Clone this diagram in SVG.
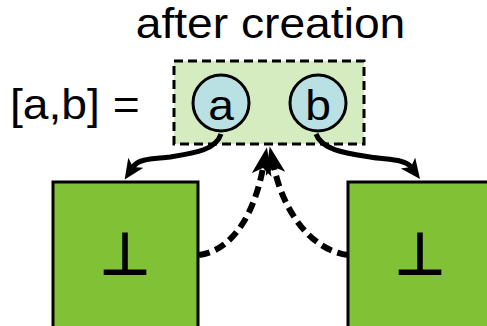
<svg xmlns="http://www.w3.org/2000/svg" width="487" height="326" viewBox="0 0 487 326">
  <style>
    .lbl { font-family: "Liberation Sans", Arial, sans-serif; font-size: 42px; fill: #000; }
    .mid { text-anchor: middle; }
    .bot { font-family: "DejaVu Sans", sans-serif; font-size: 58px; text-anchor: middle; fill: #000; stroke: #000; stroke-width: 2; }
    .cell { fill: #80c136; stroke: #000; stroke-width: 3; }
    .var { fill: #b9e0e3; stroke: #000; stroke-width: 3; }
    .pair { fill: #d4ecc0; stroke: #000; stroke-width: 3; stroke-dasharray: 9 5; }
    .ref { fill: none; stroke: #000; stroke-width: 5; }
    .back { fill: none; stroke: #000; stroke-width: 6; stroke-dasharray: 11 6; }
  </style>
  <defs>
    <marker id="head" markerUnits="userSpaceOnUse" markerWidth="24" markerHeight="22" refX="5" refY="9" orient="auto">
      <path d="M0,0 L20,9 L0,18 L5,9 Z" fill="#000"/>
    </marker>
    <marker id="head-big" markerUnits="userSpaceOnUse" markerWidth="32" markerHeight="24" refX="7" refY="10" orient="auto">
      <path d="M0,0 L28,10 L0,20 L7,10 Z" fill="#000"/>
    </marker>
  </defs>
  <rect width="487" height="326" fill="#fff"/>

  <text class="lbl mid" transform="translate(270.5,38) scale(1.1,1)">after creation</text>

  <g id="pair">
    <text class="lbl" transform="translate(10,119) scale(1.1,1)">[a,b] =</text>
    <rect class="pair" x="174" y="61" width="190" height="83"/>
  </g>

  <g id="left-cell">
    <rect class="cell" x="53" y="182" width="145" height="160"/>
    <text class="bot" x="125" y="274">⊥</text>
  </g>

  <g id="right-cell">
    <rect class="cell" x="348" y="182" width="160" height="160"/>
    <text class="bot" x="420" y="274">⊥</text>
  </g>

  <g id="connectors">
    <path class="ref" d="M221,134 C216,150 195,153 170,157 C155,159 139,158 133,167" marker-end="url(#head)"/>
    <path class="ref" d="M316,134 C322,150 345,153 370,157 C388,160 405,159 411,167" marker-end="url(#head)"/>
    <path class="back" d="M199,255 C235,250 255,210 263,168" marker-end="url(#head-big)"/>
    <path class="back" d="M348,255 C310,250 283,210 274,167" marker-end="url(#head-big)"/>
  </g>

  <g id="var-a">
    <circle class="var" cx="221" cy="103" r="28"/>
    <text class="lbl mid" transform="translate(221,120) scale(1.1,1)">a</text>
  </g>
  <g id="var-b">
    <circle class="var" cx="318" cy="103" r="28"/>
    <text class="lbl mid" transform="translate(318,120) scale(1.1,1)">b</text>
  </g>
</svg>
